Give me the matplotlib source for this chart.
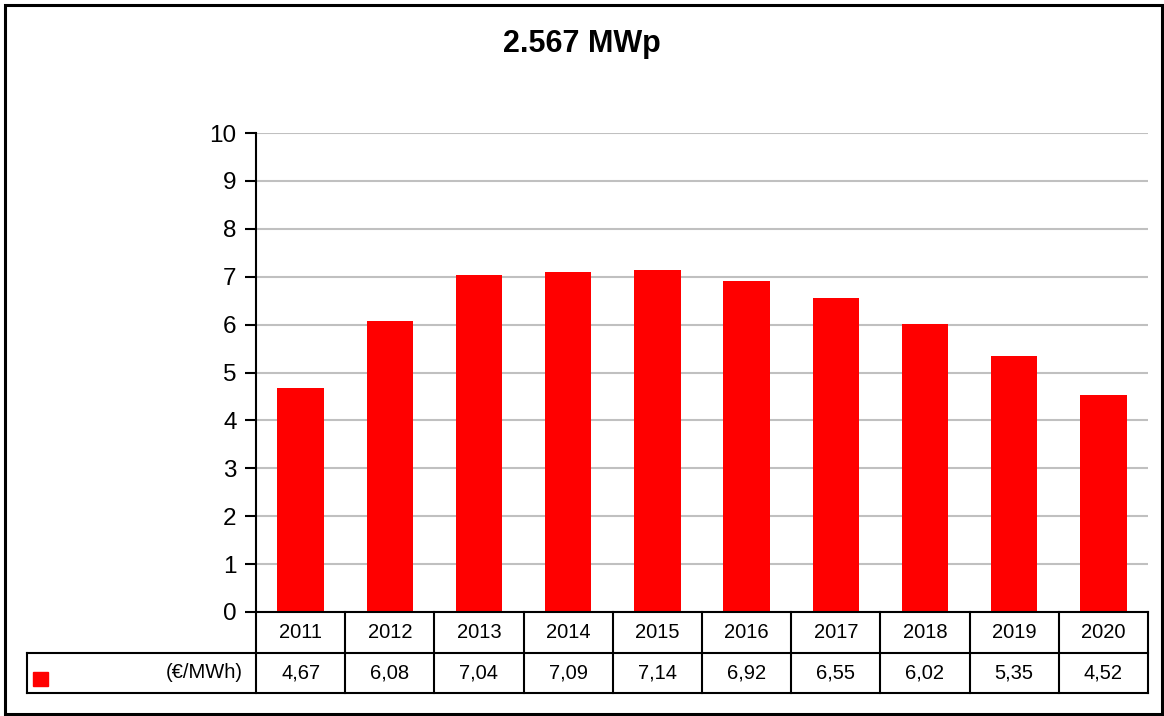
import matplotlib
matplotlib.use("Agg")
import matplotlib.pyplot as plt
from matplotlib.lines import Line2D
from matplotlib.patches import Rectangle
import matplotlib.transforms as mtransforms

years = ["2011", "2012", "2013", "2014", "2015", "2016", "2017", "2018", "2019", "2020"]
values = [4.67, 6.08, 7.04, 7.09, 7.14, 6.92, 6.55, 6.02, 5.35, 4.52]
value_labels = ["4,67", "6,08", "7,04", "7,09", "7,14", "6,92", "6,55", "6,02", "5,35", "4,52"]
series_name = "(€/MWh)"
title = "2.567 MWp"
yticks = list(range(0, 11))

plt.rcParams['font.family'] = ['Liberation Sans', 'DejaVu Sans']

W, H = 1164, 716
fig = plt.figure(figsize=(W / 100, H / 100), dpi=100)

# outer frame
fig.add_artist(Rectangle((5 / W, 2 / H), (1162 - 5) / W, (711 - 2) / H,
                         transform=fig.transFigure, fill=False,
                         edgecolor="black", linewidth=2.2))

ax_l, ax_r, ax_t, ax_b = 256, 1148, 133, 612
ax = fig.add_axes([ax_l / W, (H - ax_b) / H, (ax_r - ax_l) / W, (ax_b - ax_t) / H])

x = list(range(len(years)))
ax.bar(x, values, width=0.52, color="#ff0000", zorder=3)
ax.set_xlim(-0.5, len(years) - 0.5)
ax.set_ylim(0, 10)
ax.set_yticks(yticks)
ax.set_yticklabels([str(t) for t in yticks], fontsize=17.5)
ax.yaxis.grid(True, color="#c0c0c0", linewidth=1.5, zorder=0)
ax.set_xticks([])
for s in ["top", "right", "bottom"]:
    ax.spines[s].set_visible(False)
ax.spines["left"].set_linewidth(1.5)
ax.tick_params(axis="y", length=8, width=1.5, pad=6, direction="out")

fig.text(0.5, (H - 44) / H, title, ha="center", va="center",
         fontsize=22, fontweight="bold")

# data table
axh = ax_b - ax_t
r1 = -(653 - ax_b) / axh
r2 = -(693 - ax_b) / axh
left_data = (27 - ax_l) / ((ax_r - ax_l) / len(years)) - 0.5
trans = mtransforms.blended_transform_factory(ax.transData, ax.transAxes)
lw = 1.5
lk = dict(color="black", linewidth=lw, transform=trans, clip_on=False, zorder=5)
xr = len(years) - 0.5
# horizontal lines
ax.add_line(Line2D([-0.5, xr], [0, 0], **lk))
ax.add_line(Line2D([left_data, xr], [r1, r1], **lk))
ax.add_line(Line2D([left_data, xr], [r2, r2], **lk))
# vertical lines
ax.add_line(Line2D([left_data, left_data], [r1, r2], **lk))
for i in range(len(years) + 1):
    xv = i - 0.5
    ax.add_line(Line2D([xv, xv], [0, r2], **lk))
for i, (yr, vl) in enumerate(zip(years, value_labels)):
    ax.text(i, r1 / 2, yr, transform=trans, ha="center", va="center", fontsize=14.5)
    ax.text(i, (r1 + r2) / 2, vl, transform=trans, ha="center", va="center", fontsize=14.5)
ax.text(-0.5 - 0.15, (r1 + r2) / 2, series_name, transform=trans, ha="right",
        va="center", fontsize=14.5)
# legend key
key_x0 = left_data + (33 - 27) / 89.2
ax.add_patch(Rectangle((key_x0, -(686 - ax_b) / axh), 15 / 89.2, 14 / axh,
                       transform=trans, color="#ff0000", clip_on=False))

fig.savefig("out.png", dpi=100)
